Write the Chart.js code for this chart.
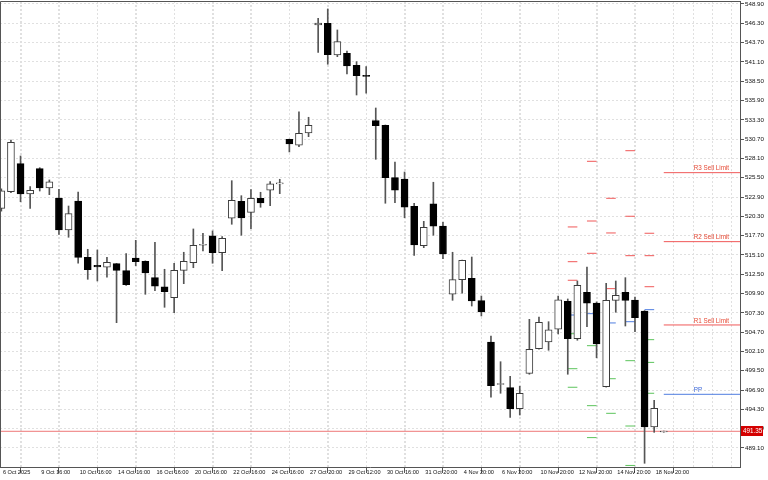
<!DOCTYPE html>
<html>
<head>
<meta charset="utf-8">
<script src="https://cdn.jsdelivr.net/npm/chart.js@4.4.1/dist/chart.umd.min.js"></script>
<style>
html, body { margin: 0; padding: 0; background: #fff; }
#wrap { width: 768px; height: 480px; }
</style>
</head>
<body>
<div id="wrap"><canvas id="c"></canvas></div>
<script>
// candles, one per bar index (0..69)
const opens = [
    521.38, 523.62, 527.39, 523.31, 526.72, 524.12, 522.77, 518.46, 522.37, 514.78,
    513.71, 513.44, 513.92, 512.98, 514.69, 514.24, 512.04, 510.82, 509.34, 513.03,
    514.06, 516.40, 517.69, 515.40, 520.04, 522.33, 520.84, 522.73, 523.81, 524.66,
    530.68, 529.87, 531.53, 546.07, 546.30, 542.03, 542.26, 540.64, 539.20, 533.18,
    532.56, 525.51, 525.33, 521.65, 516.35, 522.00, 519.00, 509.80, 511.77, 511.96,
    508.94, 503.38, 497.65, 497.22, 494.39, 499.16, 502.47, 503.38, 505.09, 508.86,
    503.82, 510.07, 508.63, 497.36, 508.99, 510.07, 509.03, 507.55, 491.93, 491.25
];
const highs = [
    524.00, 530.58, 528.43, 524.29, 526.85, 525.20, 523.94, 521.69, 523.58, 515.86,
    515.77, 514.78, 513.95, 515.27, 517.07, 514.30, 516.80, 513.17, 513.98, 515.46,
    518.60, 518.02, 518.33, 517.56, 525.10, 523.08, 523.89, 523.54, 524.97, 525.29,
    530.70, 534.39, 533.64, 546.97, 548.23, 545.40, 542.57, 541.13, 540.46, 534.89,
    532.60, 527.62, 526.27, 522.06, 519.63, 524.89, 519.50, 515.46, 514.40, 514.82,
    509.57, 504.18, 500.72, 498.76, 497.41, 506.43, 506.74, 506.11, 509.57, 509.17,
    511.59, 513.48, 508.76, 511.28, 511.59, 512.04, 509.44, 507.60, 495.52, 491.38
];
const lows = [
    521.00, 523.49, 522.27, 521.38, 523.71, 523.22, 517.88, 517.48, 513.98, 511.82,
    511.59, 512.09, 505.98, 511.00, 513.65, 509.80, 510.29, 508.05, 507.32, 511.23,
    513.38, 515.63, 513.98, 512.98, 519.23, 517.75, 518.64, 521.52, 521.73, 523.35,
    528.97, 529.68, 531.03, 542.39, 540.78, 541.80, 539.47, 536.64, 536.87, 527.98,
    522.06, 522.14, 520.12, 515.05, 516.08, 517.75, 514.60, 508.99, 509.94, 508.22,
    506.88, 495.93, 496.47, 493.23, 493.54, 499.03, 502.40, 502.26, 504.45, 499.03,
    503.61, 505.44, 501.26, 497.30, 507.38, 505.53, 504.76, 487.04, 491.21, 491.22
];
const closes = [
    523.75, 530.27, 523.31, 523.81, 524.12, 524.93, 518.46, 520.66, 514.78, 513.11,
    513.48, 514.11, 513.03, 511.09, 514.19, 512.67, 510.88, 510.15, 513.03, 514.24,
    516.40, 516.45, 515.40, 517.34, 522.46, 520.08, 522.73, 522.10, 524.66, 524.70,
    530.04, 531.48, 532.56, 546.34, 542.07, 543.82, 540.55, 539.24, 539.15, 532.51,
    525.51, 523.81, 521.52, 516.44, 518.82, 518.96, 515.23, 511.77, 514.38, 508.90,
    507.42, 497.49, 497.70, 494.39, 496.47, 502.39, 506.03, 505.03, 509.07, 503.82,
    511.01, 508.59, 503.11, 508.99, 509.67, 508.99, 506.65, 491.93, 494.45, 491.35
];

// time labels, one every 4 bars starting at bar 0
const timeLabels = [
    '6 Oct 2025', '9 Oct 16:00', '10 Oct 16:00', '14 Oct 16:00', '16 Oct 16:00',
    '20 Oct 16:00', '22 Oct 16:00', '24 Oct 16:00', '27 Oct 20:00', '29 Oct 12:00',
    '30 Oct 16:00', '31 Oct 20:00', '4 Nov 20:00', '6 Nov 20:00', '10 Nov 20:00',
    '12 Nov 20:00', '14 Nov 20:00', '18 Nov 20:00'
];
const yTicks = [
    548.9, 546.3, 543.7, 541.1, 538.5, 535.9, 533.3, 530.7, 528.1, 525.5, 522.9, 520.3,
    517.7, 515.1, 512.5, 509.9, 507.3, 504.7, 502.1, 499.5, 496.9, 494.3, 491.7, 489.1
];

// daily pivot history (each drawn over 2 bars from pivotBars[i])
const pivotBars = [59, 61, 63, 65, 67];
const r3Hist = [518.87, 527.71, 522.73, 529.14, 518.02];
const r2Hist = [514.19, 519.67, 518.06, 520.31, 515.00];
const r1Hist = [511.69, 515.32, 510.56, 515.00, 510.82];
const ppHist = [507.01, 507.19, 505.94, 506.11, 507.73];
const s1Hist = [504.49, 502.88, 498.43, 500.86, 503.69];
const s2Hist = [499.78, 494.80, 493.77, 492.06, 500.63];
const s3Hist = [497.28, 490.50, 486.31, 486.75, 496.47];

// current levels
const levelNames = ['R3 Sell Limit', 'R2 Sell Limit', 'R1 Sell Limit', 'PP'];
const levelValues = [526.18, 516.89, 505.67, 496.33];
const levelStart = 69;
const lastPrice = 491.35;

const X_MIN = -0.14, X_MAX = 76.94;
const Y_MIN = 486.54, Y_MAX = 549.30;
const RED = '#f05858', GREEN = '#5cc45c', BLUE = '#4f7de0';
const GRID = '#e0e0e0';
const TEXT = '#111';
const FONT = 'Liberation Sans, Arial, sans-serif';

const bars = opens.map((_, i) => i);
const up = bars.map(i => closes[i] >= opens[i]);

function histLine(vals, color) {
    const pts = [];
    pivotBars.forEach((b, i) => {
        pts.push({ x: b, y: vals[i] }, { x: b + 1, y: vals[i] }, { x: b + 1, y: null });
    });
    return { type: 'line', data: pts, borderColor: color, borderWidth: 1, pointRadius: 0, spanGaps: false, order: 5 };
}

const levelColors = levelNames.map(n => n === 'PP' ? BLUE : RED);

const datasets = [
    // wicks
    {
        type: 'bar', data: bars.map(i => ({ x: i, y: [lows[i], highs[i]] })),
        barThickness: 1, backgroundColor: '#555', borderWidth: 0, grouped: false, order: 3
    },
    // bodies
    {
        type: 'bar', data: bars.map(i => ({ x: i, y: [opens[i], closes[i]] })),
        barThickness: 7, minBarLength: 1, grouped: false, order: 1,
        backgroundColor: up.map(u => u ? '#fff' : '#000'),
        borderColor: up.map(u => u ? '#3c3c3c' : '#000'),
        borderWidth: 1, borderSkipped: false
    },
    histLine(r3Hist, RED), histLine(r2Hist, RED), histLine(r1Hist, RED),
    histLine(ppHist, BLUE),
    histLine(s1Hist, GREEN), histLine(s2Hist, GREEN), histLine(s3Hist, GREEN),
    ...levelValues.map((v, i) => ({
        type: 'line', data: [{ x: levelStart, y: v }, { x: X_MAX, y: v }],
        borderColor: levelColors[i], borderWidth: 1, pointRadius: 0, order: 5
    })),
    // last price line
    {
        type: 'line', data: [{ x: X_MIN, y: lastPrice }, { x: X_MAX, y: lastPrice }],
        borderColor: '#ee7777', borderWidth: 1, pointRadius: 0, order: 4
    }
];

// extra dotted verticals between the labelled ticks, kept inside the plot
const minorGrid = {
    id: 'minorGrid',
    beforeDatasetsDraw(chart) {
        const { ctx, chartArea: a, scales: { x } } = chart;
        ctx.save();
        ctx.beginPath();
        ctx.rect(a.left, a.top, a.right - a.left, a.bottom - a.top);
        ctx.clip();
        ctx.strokeStyle = GRID;
        ctx.lineWidth = 1;
        ctx.setLineDash([2, 2]);
        for (let k = 2; k <= X_MAX; k += 2) {
            if (k % 4 === 0 && k / 4 < timeLabels.length) continue;
            const px = Math.round(x.getPixelForValue(k)) + 0.5;
            ctx.beginPath();
            ctx.moveTo(px, a.top);
            ctx.lineTo(px, a.bottom);
            ctx.stroke();
        }
        ctx.restore();
    }
};

const decor = {
    id: 'decor',
    afterDraw(chart) {
        const { ctx, chartArea: a, scales: { x, y } } = chart;
        ctx.save();
        // frame top/left
        ctx.strokeStyle = '#555';
        ctx.lineWidth = 1;
        ctx.beginPath();
        ctx.moveTo(a.left + 0.5, a.bottom);
        ctx.lineTo(a.left + 0.5, a.top + 0.5);
        ctx.lineTo(a.right, a.top + 0.5);
        ctx.stroke();
        // level labels
        ctx.font = '6.3px ' + FONT;
        ctx.textBaseline = 'bottom';
        ctx.textAlign = 'left';
        levelNames.forEach((n, i) => {
            ctx.fillStyle = n === 'PP' ? '#3a66d8' : '#e64a36';
            ctx.fillText(n, x.getPixelForValue(levelStart) + 30, y.getPixelForValue(levelValues[i]) - 1);
        });
        // price tag
        const py = y.getPixelForValue(lastPrice);
        ctx.fillStyle = '#d40000';
        ctx.fillRect(a.right + 1, Math.round(py) - 5, 22, 10);
        ctx.fillStyle = '#fff';
        ctx.textBaseline = 'middle';
        ctx.fillText(lastPrice.toFixed(2), a.right + 3, Math.round(py));
        ctx.restore();
    }
};

new Chart(document.getElementById('c'), {
    type: 'bar',
    data: { datasets },
    plugins: [minorGrid, decor],
    options: {
        responsive: true,
        maintainAspectRatio: false,
        animation: false,
        devicePixelRatio: 1,
        layout: { padding: { top: 1, left: 0, right: 0, bottom: 0 } },
        plugins: { legend: { display: false }, tooltip: { enabled: false } },
        scales: {
            // labelled time axis, one tick every 4 bars
            x: {
                type: 'linear', min: X_MIN, max: X_MAX, offset: false,
                afterBuildTicks(s) { s.ticks = timeLabels.map((_, i) => ({ value: i * 4 })); },
                afterFit(s) { s.height = 13; s.paddingLeft = 0; s.paddingRight = 0; },
                grid: { color: GRID, lineWidth: 1, tickLength: 6, tickColor: '#555' },
                border: { display: true, color: '#555', dash: [2, 2] },
                ticks: {
                    autoSkip: false, maxRotation: 0, minRotation: 0, align: 'start', padding: -4,
                    color: TEXT, font: { family: FONT, size: 5.6 },
                    callback: v => ' ' + (timeLabels[Math.round(v / 4)] || '')
                }
            },
            y: {
                type: 'linear', position: 'right', min: Y_MIN, max: Y_MAX,
                afterBuildTicks(s) { s.ticks = yTicks.map(v => ({ value: v })); },
                afterFit(s) { s.width = 28; s.paddingTop = 0; s.paddingBottom = 0; },
                grid: { color: GRID, lineWidth: 1, tickLength: 4, tickColor: '#555' },
                border: { display: true, color: '#555', dash: [2, 2] },
                ticks: {
                    padding: 1, color: TEXT, font: { family: FONT, size: 6.2 },
                    callback: v => v.toFixed(2)
                }
            }
        }
    }
});
</script>
</body>
</html>
